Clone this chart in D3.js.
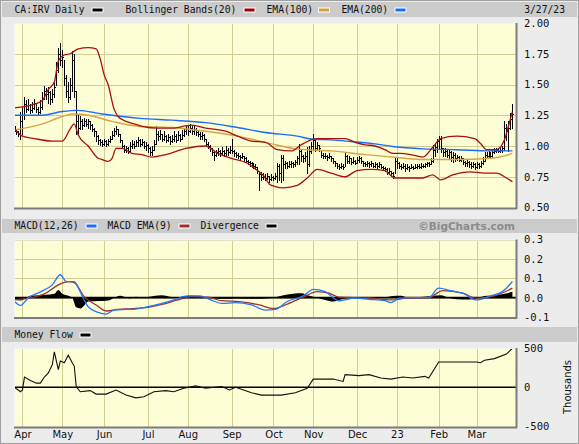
<!DOCTYPE html>
<html>
<head>
<meta charset="utf-8">
<script src="https://cdn.jsdelivr.net/npm/d3@7"></script>
<style>
body{margin:0;background:#ececec;}
svg{display:block;}
</style>
</head>
<body>
<div id="chart"></div>
<script>
/* trading calendar: weekdays 3/28/22 - 3/27/23 minus TSX holidays */
const firstDay = "2022-03-28", lastDay = "2023-03-27";
const holidays = ["2022-04-15","2022-05-23","2022-07-01","2022-08-01","2022-09-05",
  "2022-10-10","2022-12-26","2022-12-27","2023-01-02","2023-02-20"];
const monthNames = ["Apr","May","Jun","Jul","Aug","Sep","Oct","Nov","Dec","23","Feb","Mar"];

/* daily bars (one value per trading day) */
const hi = [1.16,1.14,1.12,1.28,1.32,1.40,1.37,1.38,1.34,1.36,
  1.38,1.35,1.32,1.37,1.44,1.49,1.47,1.48,1.45,1.46,
  1.52,1.68,1.80,1.84,1.78,1.70,1.58,1.52,1.55,1.77,
  1.75,1.45,1.25,1.24,1.22,1.23,1.22,1.22,1.20,1.18,
  1.15,1.12,1.09,1.06,1.05,1.06,1.05,1.06,1.08,1.12,
  1.15,1.16,1.14,1.10,1.05,1.01,1.00,0.99,1.03,1.05,
  1.04,1.05,1.07,1.06,1.06,1.04,1.03,1.02,0.99,1.00,
  1.05,1.16,1.12,1.13,1.10,1.12,1.09,1.10,1.08,1.09,
  1.12,1.10,1.12,1.10,1.13,1.15,1.17,1.16,1.18,1.16,
  1.17,1.15,1.13,1.11,1.11,1.10,1.06,1.03,1.01,0.98,
  0.96,0.97,0.98,0.97,0.99,0.97,1.00,0.98,1.00,1.06,
  0.97,0.95,0.94,0.93,0.94,0.92,0.91,0.89,0.88,0.87,
  0.86,0.85,0.83,0.80,0.79,0.78,0.77,0.78,0.76,0.77,
  0.76,0.78,0.86,0.85,0.93,0.93,0.88,0.87,0.88,0.88,
  0.87,0.89,0.92,1.02,0.97,0.93,0.95,0.99,1.00,1.03,
  1.10,1.06,1.03,1.01,0.96,0.94,0.94,0.93,0.94,0.92,
  0.90,0.88,0.86,0.85,0.86,0.85,0.95,0.93,0.92,0.90,
  0.91,0.89,0.91,0.92,0.91,0.88,0.87,0.88,0.87,0.88,
  0.86,0.87,0.86,0.87,0.85,0.84,0.83,0.82,0.82,0.80,
  0.79,0.91,0.90,0.87,0.85,0.86,0.85,0.85,0.84,0.85,
  0.84,0.85,0.85,0.85,0.86,0.85,0.86,0.87,0.87,0.90,
  1.01,1.02,1.06,1.08,1.08,0.98,0.98,0.97,0.97,0.96,
  0.95,0.94,0.93,0.92,0.92,0.90,0.88,0.89,0.88,0.87,
  0.87,0.86,0.87,0.86,0.88,0.91,0.95,0.95,0.96,0.95,
  0.97,0.98,0.98,0.98,0.99,1.00,1.20,1.18,1.20,1.27,
  1.34];
const lo = [1.12,1.10,1.08,1.06,1.10,1.22,1.28,1.29,1.27,1.28,
  1.30,1.28,1.26,1.27,1.30,1.38,1.38,1.35,1.34,1.36,
  1.40,1.50,1.60,1.66,1.64,1.50,1.40,1.36,1.38,1.45,
  1.40,1.10,1.10,1.14,1.14,1.16,1.16,1.15,1.14,1.12,
  1.08,1.04,1.02,1.01,1.00,1.01,1.00,1.01,1.03,1.06,
  1.08,1.10,1.08,1.03,0.98,0.95,0.95,0.94,0.96,0.98,
  0.98,1.00,1.00,1.00,1.01,0.98,0.97,0.95,0.93,0.93,
  0.97,1.02,1.05,1.06,1.04,1.05,1.03,1.04,1.02,1.03,
  1.04,1.03,1.05,1.04,1.06,1.08,1.10,1.09,1.11,1.10,
  1.10,1.09,1.08,1.06,1.06,1.04,1.00,0.98,0.96,0.93,
  0.89,0.92,0.93,0.92,0.93,0.92,0.93,0.93,0.94,0.94,
  0.92,0.91,0.90,0.89,0.90,0.88,0.87,0.85,0.84,0.83,
  0.82,0.81,0.78,0.64,0.72,0.73,0.72,0.73,0.71,0.72,
  0.72,0.73,0.71,0.72,0.71,0.72,0.82,0.82,0.83,0.83,
  0.83,0.84,0.85,0.85,0.88,0.87,0.88,0.78,0.84,0.94,
  0.97,0.96,0.97,0.96,0.91,0.90,0.90,0.89,0.90,0.88,
  0.86,0.84,0.82,0.81,0.82,0.81,0.84,0.86,0.86,0.85,
  0.86,0.85,0.86,0.87,0.86,0.84,0.84,0.84,0.83,0.84,
  0.83,0.83,0.82,0.83,0.82,0.81,0.80,0.77,0.77,0.76,
  0.74,0.78,0.82,0.82,0.81,0.82,0.80,0.81,0.80,0.82,
  0.81,0.82,0.82,0.82,0.82,0.83,0.83,0.84,0.84,0.85,
  0.87,0.92,0.95,0.98,0.95,0.92,0.92,0.91,0.90,0.88,
  0.87,0.88,0.89,0.88,0.88,0.85,0.84,0.84,0.83,0.82,
  0.83,0.81,0.82,0.82,0.83,0.85,0.88,0.90,0.91,0.90,
  0.91,0.94,0.95,0.95,0.95,0.95,0.97,1.05,0.96,1.14,
  1.15];
const cl = [1.14,1.12,1.10,1.20,1.25,1.34,1.30,1.33,1.29,1.31,
  1.35,1.30,1.28,1.32,1.38,1.45,1.42,1.44,1.38,1.42,
  1.48,1.62,1.75,1.70,1.72,1.55,1.45,1.40,1.50,1.70,
  1.45,1.20,1.15,1.20,1.17,1.20,1.18,1.20,1.17,1.14,
  1.12,1.08,1.05,1.03,1.02,1.04,1.02,1.04,1.06,1.09,
  1.12,1.14,1.10,1.05,1.00,0.97,0.98,0.96,1.00,1.02,
  1.00,1.03,1.05,1.02,1.03,1.00,1.01,0.98,0.95,0.97,
  1.02,1.10,1.08,1.10,1.06,1.08,1.05,1.07,1.04,1.06,
  1.08,1.05,1.09,1.06,1.09,1.12,1.14,1.12,1.15,1.12,
  1.14,1.11,1.10,1.08,1.09,1.06,1.02,1.00,0.98,0.95,
  0.93,0.95,0.96,0.94,0.96,0.94,0.97,0.95,0.97,0.96,
  0.94,0.93,0.92,0.91,0.92,0.90,0.88,0.87,0.86,0.85,
  0.84,0.83,0.80,0.77,0.75,0.76,0.74,0.76,0.73,0.75,
  0.74,0.76,0.84,0.78,0.90,0.85,0.86,0.84,0.85,0.86,
  0.85,0.87,0.90,0.96,0.92,0.90,0.92,0.85,0.96,1.00,
  1.05,0.98,1.01,0.98,0.93,0.92,0.92,0.91,0.92,0.90,
  0.88,0.86,0.84,0.83,0.84,0.83,0.92,0.88,0.90,0.87,
  0.88,0.86,0.89,0.90,0.88,0.86,0.85,0.86,0.85,0.86,
  0.84,0.85,0.84,0.85,0.83,0.82,0.81,0.79,0.80,0.78,
  0.76,0.88,0.86,0.84,0.83,0.84,0.82,0.83,0.82,0.83,
  0.82,0.83,0.84,0.83,0.84,0.84,0.85,0.86,0.85,0.88,
  0.97,0.99,1.04,1.06,0.98,0.95,0.96,0.93,0.95,0.91,
  0.93,0.90,0.91,0.89,0.90,0.87,0.86,0.87,0.85,0.84,
  0.85,0.83,0.85,0.84,0.86,0.88,0.93,0.92,0.94,0.92,
  0.95,0.96,0.97,0.96,0.97,0.98,1.15,1.12,1.15,1.22,
  1.26];

/* indicator lines: [trading day index, value] */
const bbUpper = [[0,1.31],[5,1.32],[10,1.34],[14,1.37],[17,1.46],[20,1.52],[22,1.69],[25,1.74],
  [28,1.75],[32,1.79],[37,1.80],[41,1.79],[43,1.71],[45,1.58],[47,1.50],[50,1.30],[52,1.24],
  [56,1.20],[60,1.18],[64,1.16],[72,1.145],[79,1.145],[89,1.17],[96,1.145],[106,1.12],
  [112,1.08],[119,1.04],[126,1.03],[132,0.97],[139,0.96],[144,1.01],[149,1.05],[152,1.06],
  [159,1.06],[166,1.06],[171,1.03],[176,1.01],[181,1.00],[186,0.97],[190,0.94],[194,0.94],
  [199,0.93],[205,0.91],[210,0.99],[214,1.06],[222,1.08],[231,1.06],[234,1.02],[237,0.97],
  [242,0.97],[246,1.05],[248,1.16],[250,1.28]];
const bbLower = [[0,1.14],[4,1.08],[10,1.06],[19,1.04],[24,1.04],[28,1.14],[30,1.18],[32,1.09],
  [37,1.00],[42,0.90],[44,0.89],[47,0.875],[49,0.90],[51,0.98],[54,0.98],[59,0.94],[64,0.93],
  [69,0.91],[76,0.93],[86,0.98],[96,1.00],[102,0.94],[109,0.90],[117,0.86],[122,0.80],
  [125,0.76],[128,0.69],[131,0.67],[135,0.66],[142,0.68],[147,0.74],[152,0.81],[159,0.78],
  [166,0.75],[172,0.80],[179,0.81],[186,0.80],[189,0.76],[191,0.74],[205,0.74],[210,0.765],
  [214,0.725],[220,0.765],[229,0.79],[236,0.78],[242,0.78],[247,0.74],[250,0.71]];
const ema100 = [[0,1.13],[14,1.18],[24,1.24],[29,1.26],[37,1.25],[49,1.20],[62,1.16],[79,1.15],
  [96,1.12],[112,1.08],[126,1.03],[142,0.975],[159,0.96],[176,0.93],[190,0.91],[205,0.89],
  [222,0.89],[239,0.90],[246,0.92],[250,0.94]];
const ema200 = [[0,1.25],[14,1.25],[24,1.28],[32,1.29],[44,1.26],[63,1.225],[79,1.21],[96,1.19],
  [112,1.15],[126,1.11],[142,1.08],[150,1.055],[159,1.05],[169,1.036],[181,1.017],[190,0.996],
  [205,0.977],[222,0.97],[239,0.96],[250,0.96]];

const macdLine = [[0,-0.02],[3,-0.04],[7,0.0],[13,0.03],[19,0.066],[23,0.118],[26,0.083],[30,0.083],
  [33,0.03],[37,-0.047],[42,-0.076],[46,-0.085],[50,-0.064],[56,-0.061],[61,-0.059],[67,-0.047],
  [72,-0.035],[80,-0.012],[87,0.009],[93,0.009],[98,-0.009],[104,-0.03],[111,-0.026],[119,-0.038],
  [126,-0.064],[131,-0.061],[137,-0.02],[145,0.009],[150,0.043],[156,0.031],[163,-0.016],
  [171,-0.003],[178,-0.009],[186,-0.016],[189,-0.026],[193,-0.003],[200,0.0],[208,0.0],
  [213,0.049],[219,0.036],[225,0.023],[232,-0.012],[239,0.009],[245,0.031],[250,0.083]];
const macdSignal = [[0,-0.012],[7,-0.003],[15,0.019],[22,0.066],[27,0.083],[30,0.078],[35,0.005],
  [41,-0.038],[46,-0.069],[52,-0.061],[59,-0.057],[67,-0.05],[74,-0.035],[82,-0.012],[89,0.005],
  [97,0.002],[104,-0.016],[113,-0.021],[123,-0.038],[130,-0.056],[137,-0.033],[145,0.002],
  [152,0.031],[158,0.023],[163,0.002],[178,-0.002],[189,-0.012],[197,-0.003],[208,0.0],
  [215,0.036],[225,0.023],[232,-0.003],[241,0.009],[250,0.049]];
const divergence = [[0,-0.01],[3,-0.015],[6,0.0],[8,0.01],[12,0.012],[16,0.015],[20,0.02],[22,0.04],
  [24,0.02],[27,0.01],[29,0.0],[31,-0.05],[33,-0.056],[35,-0.04],[37,-0.02],[42,-0.018],[47,-0.015],
  [50,0.0],[53,0.01],[55,0.005],[58,-0.003],[61,0.005],[64,0.0],[70,0.008],[74,0.012],[78,0.005],
  [82,0.0],[86,0.008],[90,0.01],[94,0.006],[98,0.0],[104,-0.006],[112,-0.004],[120,-0.006],
  [128,-0.003],[134,0.01],[140,0.02],[144,0.022],[148,0.01],[152,0.0],[156,-0.012],[160,-0.02],
  [164,-0.01],[168,0.0],[186,0.0],[190,0.008],[194,0.01],[198,0.0],[210,0.008],[214,0.012],
  [218,0.0],[222,-0.008],[228,-0.01],[232,-0.005],[236,0.008],[242,0.012],[246,0.02],[250,0.03]];

/* money flow, thousands */
const moneyFlow = [[0,0],[3,-57],[4,-35],[5,130],[8,87],[11,52],[13,52],[15,130],[17,183],[19,290],
  [20,452],[22,226],[23,335],[25,313],[27,409],[29,313],[30,270],[31,9],[33,-57],[38,-43],[41,-87],
  [46,-87],[51,-35],[56,-100],[61,-135],[65,-122],[70,-57],[76,-43],[80,-57],[85,-13],[91,17],
  [96,-13],[104,9],[108,-35],[111,0],[119,-70],[124,-100],[134,-100],[141,-70],[147,-13],[150,104],
  [160,104],[165,74],[166,161],[173,148],[178,161],[184,117],[189,104],[195,130],[200,117],
  [206,139],[208,117],[213,322],[219,322],[232,322],[234,313],[236,343],[241,365],[247,422],[250,496]];

const priceTicks = [0.5,0.75,1.0,1.25,1.5,1.75,2.0];
const macdTicks = [-0.1,0.0,0.1,0.2,0.3];
const mfTicks = [-500,0,500];

/* build trading day list */
const hol = new Set(holidays);
let days = [];
for (let t = Date.parse(firstDay); t <= Date.parse(lastDay); t += 86400000) {
    const d = new Date(t);
    const wd = d.getUTCDay();
    const key = d.toISOString().slice(0,10);
    if (wd == 0 || wd == 6 || hol.has(key)) continue;
    days.push(d);
}
let monthStarts = [];
for (let i = 1; i < days.length; i++) {
    if (days[i].getUTCMonth() != days[i-1].getUTCMonth()) monthStarts.push(i);
}

const W = 579, H = 444;
const L = 14, R = 516;
const svg = d3.select("#chart").append("svg")
    .attr("width", W).attr("height", H)
    .style("font-family", "'DejaVu Sans Mono', monospace");

svg.append("rect").attr("x",0.5).attr("y",0.5).attr("width",W-1).attr("height",H-1)
    .attr("fill","#ececec").attr("stroke","#a0a0a0");

const x = d3.scaleLinear().domain([0, days.length-1]).range([14.5, 512.4]);
const priceY = d3.scaleLinear().domain([0.5, 2.0]).range([207.5, 23]);
const macdY = d3.scaleLinear().domain([-0.1, 0.3]).range([317, 239.5]);
const mfY = d3.scaleLinear().domain([-500, 500]).range([426.5, 348]);

const panels = [
    {id:"p", top:23, bottom:208, y:priceY, grid:priceTicks},
    {id:"m", top:239.5, bottom:317.5, y:macdY, grid:macdTicks},
    {id:"f", top:348, bottom:427, y:mfY, grid:[]}
];

const defs = svg.append("defs");
panels.forEach(p=>{
    defs.append("clipPath").attr("id","clip-"+p.id).append("rect")
      .attr("x",L).attr("y",p.top).attr("width",R-L).attr("height",p.bottom-p.top);
    p.g = svg.append("g");
    p.g.append("rect").attr("x",L).attr("y",p.top).attr("width",R-L).attr("height",p.bottom-p.top)
      .attr("fill","#fdfdd6");
    p.g.selectAll(".vg").data(monthStarts).enter().append("line")
      .attr("x1",d=>Math.round(x(d))+0.5).attr("x2",d=>Math.round(x(d))+0.5)
      .attr("y1",p.top).attr("y2",p.bottom)
      .attr("stroke","#cfcf93").attr("stroke-width",1);
    p.g.selectAll(".hg").data(p.grid).enter().append("line")
      .attr("x1",L).attr("x2",R)
      .attr("y1",d=>Math.round(p.y(d))+0.5).attr("y2",d=>Math.round(p.y(d))+0.5)
      .attr("stroke","#cfcf93").attr("stroke-width",1);
    p.plot = p.g.append("g").attr("clip-path","url(#clip-"+p.id+")");
});

/* header bars */
function header(y0, h) {
    svg.append("rect").attr("x",2).attr("y",y0).attr("width",W-4).attr("height",h).attr("fill","#cbcbcb");
}
header(2, 15);
header(219, 14);
header(327, 15);

function legend(items, y) {
    items.forEach(it=>{
        svg.append("text").attr("x",it.x).attr("y",y).attr("dy","0.35em")
          .attr("font-size","9.7px").attr("fill","#111").text(it.label);
        svg.append("rect").attr("x",it.sx).attr("y",y-2).attr("width",11).attr("height",4)
          .attr("fill",it.c).attr("stroke","#fff").attr("stroke-width",1);
    });
}
legend([
    {label:"CA:IRV Daily", x:14.5, sx:92, c:"#000"},
    {label:"Bollinger Bands(20)", x:125.5, sx:244, c:"#a00000"},
    {label:"EMA(100)", x:266.5, sx:318.5, c:"#d4a03c"},
    {label:"EMA(200)", x:341.5, sx:395, c:"#1a6cff"}
], 10);
svg.append("text").attr("x",565).attr("y",10).attr("dy","0.35em").attr("text-anchor","end")
    .attr("font-size","9.7px").attr("fill","#111").text("3/27/23");

legend([
    {label:"MACD(12,26)", x:14.5, sx:86, c:"#1a6cff"},
    {label:"MACD EMA(9)", x:107.5, sx:179, c:"#a03030"},
    {label:"Divergence", x:200.5, sx:266, c:"#000"}
], 226);
svg.append("text").attr("x",515).attr("y",226).attr("dy","0.35em").attr("text-anchor","end")
    .attr("font-family","'DejaVu Sans', sans-serif").attr("font-weight","bold")
    .attr("font-size","10.5px").attr("fill","#8c8c8c").text("\u00a9BigCharts.com");

legend([{label:"Money Flow", x:14.5, sx:80, c:"#000"}], 335);

/* price bars: high-low line plus close tick */
const pp = panels[0].plot;
const bars = d3.range(cl.length);
pp.selectAll(".bar").data(bars).enter().append("line")
    .attr("x1",i=>Math.round(x(i))+0.5).attr("x2",i=>Math.round(x(i))+0.5)
    .attr("y1",i=>Math.round(priceY(hi[i]))).attr("y2",i=>Math.round(priceY(lo[i]))+1)
    .attr("stroke","#000").attr("stroke-width",1).attr("shape-rendering","crispEdges");
pp.selectAll(".tick").data(bars).enter().append("line")
    .attr("x1",i=>Math.round(x(i))).attr("x2",i=>Math.round(x(i))+2)
    .attr("y1",i=>Math.round(priceY(cl[i]))+0.5).attr("y2",i=>Math.round(priceY(cl[i]))+0.5)
    .attr("stroke","#000").attr("stroke-width",1).attr("shape-rendering","crispEdges");

function drawLine(g, yScale, data, color, width, curve) {
    g.append("path").datum(data)
      .attr("d", d3.line().x(d=>x(d[0])).y(d=>yScale(d[1])).curve(curve||d3.curveMonotoneX))
      .attr("fill","none").attr("stroke",color).attr("stroke-width",width);
}
drawLine(pp, priceY, ema200, "#1a6cff", 1.4);
drawLine(pp, priceY, ema100, "#d9a442", 1.4);
drawLine(pp, priceY, bbUpper, "#a81010", 1.3);
drawLine(pp, priceY, bbLower, "#a81010", 1.3);

/* MACD */
const mp = panels[1].plot;
mp.append("path").datum(divergence)
    .attr("d", d3.area().x(d=>x(d[0])).y0(macdY(0)).y1(d=>macdY(d[1])).curve(d3.curveMonotoneX))
    .attr("fill","#000");
mp.append("line").attr("x1",L).attr("x2",R).attr("y1",macdY(0)).attr("y2",macdY(0))
    .attr("stroke","#000").attr("stroke-width",1.6);
drawLine(mp, macdY, macdSignal, "#a03030", 1.3);
drawLine(mp, macdY, macdLine, "#2277ff", 1.3);

/* money flow */
const fp = panels[2].plot;
fp.append("line").attr("x1",L).attr("x2",R).attr("y1",mfY(0)).attr("y2",mfY(0))
    .attr("stroke","#000").attr("stroke-width",1.6);
drawLine(fp, mfY, moneyFlow, "#111", 1.1, d3.curveLinear);

/* plot frames */
panels.forEach(p=>{
    svg.append("line").attr("x1",L).attr("x2",R).attr("y1",p.top+0.5).attr("y2",p.top+0.5).attr("stroke","#f4f4f4");
    svg.append("line").attr("x1",L+0.5).attr("x2",L+0.5).attr("y1",p.top).attr("y2",p.bottom).attr("stroke","#f4f4f4");
    svg.append("line").attr("x1",L).attr("x2",R+1).attr("y1",p.bottom+0.5).attr("y2",p.bottom+0.5).attr("stroke","#7c7c7c").attr("stroke-width",2);
    svg.append("line").attr("x1",R+0.5).attr("x2",R+0.5).attr("y1",p.top).attr("y2",p.bottom+1).attr("stroke","#7c7c7c").attr("stroke-width",2);
});

/* right axes */
function rightAxis(yScale, ticks, fmt) {
    const a = svg.append("g").attr("transform",`translate(${R},0)`)
      .call(d3.axisRight(yScale).tickValues(ticks).tickFormat(fmt).tickSize(0).tickPadding(8));
    a.select(".domain").remove();
    a.selectAll("text").attr("font-family","'DejaVu Sans Mono', monospace")
      .attr("font-size","10.5px").attr("fill","#111");
}
rightAxis(priceY, priceTicks, d3.format(".2f"));
rightAxis(macdY, macdTicks, d=>d.toFixed(1));
rightAxis(mfY, mfTicks, d=>d);

svg.append("text").attr("transform","translate(571,387) rotate(-90)")
    .attr("text-anchor","middle").attr("font-family","'DejaVu Sans', sans-serif")
    .attr("font-size","10px").attr("fill","#111").text("Thousands");

/* month labels */
const ax = svg.append("g").attr("transform","translate(0,428)")
    .call(d3.axisBottom(x).tickValues(monthStarts).tickFormat((d,i)=>monthNames[i]).tickSize(0).tickPadding(3));
ax.select(".domain").remove();
ax.selectAll("text").attr("font-family","'DejaVu Sans', sans-serif").attr("font-size","10px").attr("fill","#111");
</script>
</body>
</html>
